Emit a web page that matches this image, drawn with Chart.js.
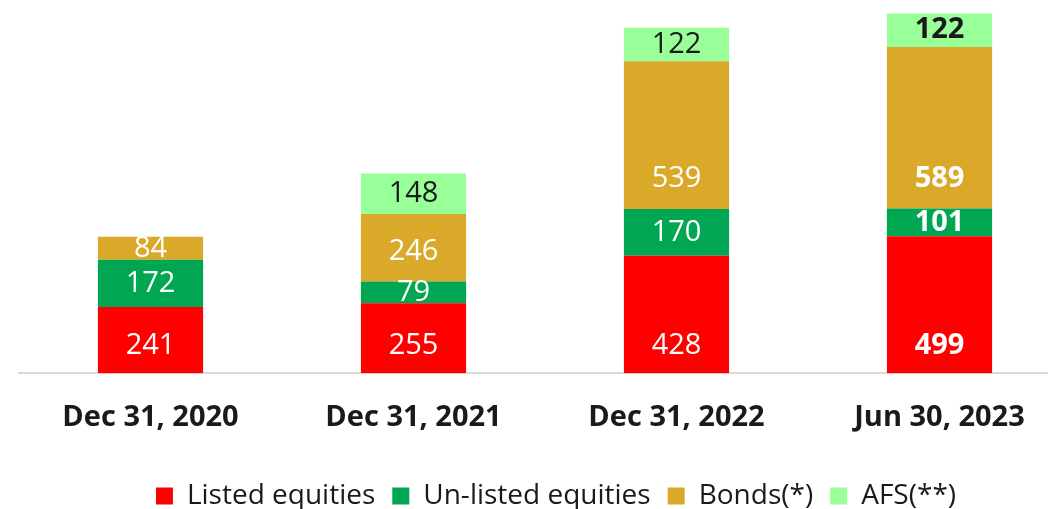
<!DOCTYPE html>
<html>
<head>
<meta charset="utf-8">
<script src="https://cdn.jsdelivr.net/npm/chart.js@4.4.0/dist/chart.umd.min.js"></script>
<style>
  html, body { margin: 0; padding: 0; background: #fff; overflow: hidden; }
  #wrap { width: 1112px; height: 520px; }
</style>
</head>
<body>
<div id="wrap"><canvas id="portfolioChart" width="1112" height="520"></canvas></div>
<script>
const categories = ['Dec 31, 2020', 'Dec 31, 2021', 'Dec 31, 2022', 'Jun 30, 2023'];
const listedEquities = [241, 255, 428, 499];
const unlistedEquities = [172, 79, 170, 101];
const bonds = [84, 246, 539, 589];
const afs = [null, 148, 122, 122];
const seriesNames = ['Listed equities', 'Un-listed equities', 'Bonds(*)', 'AFS(**)'];

const FONT = "'Open Sans', 'Noto Sans', sans-serif";
const TEXT_DARK = '#1a1a1a';

// draws the value inside each segment
const segmentLabels = {
    id: 'segmentLabels',
    afterLayout(chart) {
        // legend sits a little right of the plot centre in the original
        chart.legend.left += 11;
        chart.legend.right += 11;
    },
    afterDatasetsDraw(chart) {
        const ctx = chart.ctx;
        ctx.save();
        ctx.textAlign = 'center';
        ctx.textBaseline = 'middle';
        chart.data.datasets.forEach((ds, di) => {
            const meta = chart.getDatasetMeta(di);
            meta.data.forEach((bar, i) => {
                const v = ds.data[i];
                if (v == null) return;
                const top = bar.y, bottom = bar.base;
                let y = (top + bottom) / 2;
                if (ds.labelAnchor === 'base') y = bottom - 27;
                if (ds.labelAnchor === 'low') y = Math.max(y, bottom - 30);
                const bold = i === categories.length - 1;
                ctx.font = (bold ? 'bold ' : '') + '29px ' + FONT;
                ctx.fillStyle = ds.labelColor;
                ctx.fillText(String(v), bar.x, y);
            });
        });
        ctx.restore();
    }
};

new Chart(document.getElementById('portfolioChart'), {
    type: 'bar',
    data: {
        labels: categories,
        datasets: [
            { label: seriesNames[0], data: listedEquities, backgroundColor: '#ff0000', labelColor: '#ffffff', labelAnchor: 'base' },
            { label: seriesNames[1], data: unlistedEquities, backgroundColor: '#00a651', labelColor: '#ffffff', labelAnchor: 'center' },
            { label: seriesNames[2], data: bonds, backgroundColor: '#daa92a', labelColor: '#ffffff', labelAnchor: 'low' },
            { label: seriesNames[3], data: afs, backgroundColor: '#99ff99', labelColor: TEXT_DARK, labelAnchor: 'center' }
        ]
    },
    options: {
        responsive: false,
        animation: false,
        events: [],
        layout: { padding: { left: 19, right: 41, top: 0, bottom: 0 } },
        datasets: { bar: { categoryPercentage: 1, barPercentage: 0.4, borderWidth: 0 } },
        scales: {
            x: {
                stacked: true,
                grid: { display: false, drawTicks: false },
                border: { display: true, color: '#d9d9d9', width: 2 },
                ticks: { color: TEXT_DARK, padding: 27, font: { family: FONT, size: 29, weight: 'bold' } },
                afterFit(scale) { scale.height += 3; }
            },
            y: { stacked: true, display: false, min: 0, max: 1360 }
        },
        plugins: {
            tooltip: { enabled: false },
            legend: {
                position: 'bottom',
                labels: {
                    color: TEXT_DARK,
                    boxWidth: 17,
                    boxHeight: 17,
                    padding: 17,
                    font: { family: FONT, size: 28 }
                }
            }
        }
    },
    plugins: [segmentLabels]
});
</script>
</body>
</html>
